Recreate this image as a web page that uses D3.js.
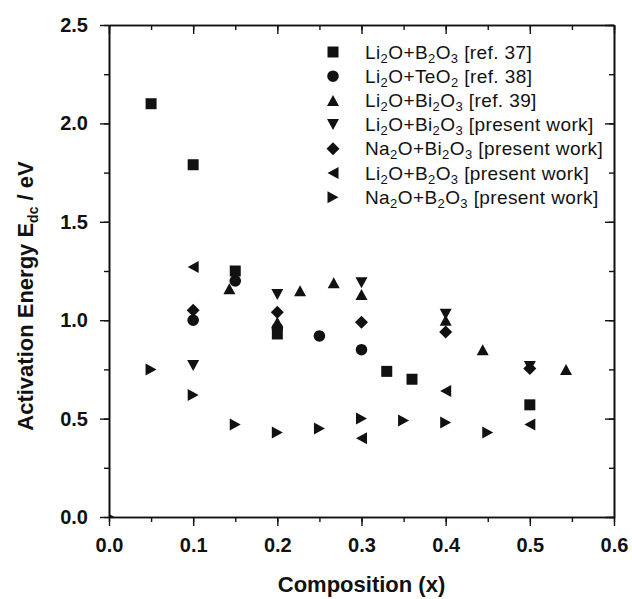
<!DOCTYPE html>
<html>
<head>
<meta charset="utf-8">
<script src="https://cdn.jsdelivr.net/npm/d3@7"></script>
<style>
  body { margin: 0; background: #fff; }
  svg { display: block; font-family: "Liberation Sans", Arial, sans-serif; }
</style>
</head>
<body>
<svg id="chart"></svg>
<script>
// Li2O+B2O3 [ref. 37] - squares
const refB_x = [0.05, 0.10, 0.15, 0.20, 0.33, 0.36, 0.50];
const refB_y = [2.10, 1.79, 1.25, 0.93, 0.74, 0.70, 0.57];
// Li2O+TeO2 [ref. 38] - circles
const refTe_x = [0.10, 0.15, 0.20, 0.25, 0.30];
const refTe_y = [1.00, 1.20, 0.96, 0.92, 0.85];
// Li2O+Bi2O3 [ref. 39] - up triangles
const refBi_x = [0.143, 0.20, 0.227, 0.267, 0.30, 0.40, 0.444, 0.543];
const refBi_y = [1.16, 0.99, 1.15, 1.19, 1.13, 1.00, 0.85, 0.75];
// Li2O+Bi2O3 [present work] - down triangles
const liBi_x = [0.10, 0.20, 0.30, 0.40, 0.50];
const liBi_y = [0.77, 1.13, 1.19, 1.03, 0.765];
// Na2O+Bi2O3 [present work] - diamonds
const naBi_x = [0.10, 0.20, 0.30, 0.40, 0.50];
const naBi_y = [1.05, 1.04, 0.99, 0.94, 0.755];
// Li2O+B2O3 [present work] - left triangles
const liB_x = [0.10, 0.30, 0.40, 0.50];
const liB_y = [1.27, 0.40, 0.64, 0.47];
// Na2O+B2O3 [present work] - right triangles
const naB_x = [0.00, 0.05, 0.10, 0.15, 0.20, 0.25, 0.30, 0.35, 0.40, 0.45];
const naB_y = [0.00, 0.75, 0.62, 0.47, 0.43, 0.45, 0.50, 0.49, 0.48, 0.43];

const xTicks = [0, 0.1, 0.2, 0.3, 0.4, 0.5, 0.6];
const yTicks = [0, 0.5, 1.0, 1.5, 2.0, 2.5];

// legend labels: [text, isSubscript] pieces
const legendLabels = [
  [["Li"], ["2", 1], ["O+B"], ["2", 1], ["O"], ["3", 1], [" [ref. 37]"]],
  [["Li"], ["2", 1], ["O+TeO"], ["2", 1], [" [ref. 38]"]],
  [["Li"], ["2", 1], ["O+Bi"], ["2", 1], ["O"], ["3", 1], [" [ref. 39]"]],
  [["Li"], ["2", 1], ["O+Bi"], ["2", 1], ["O"], ["3", 1], [" [present work]"]],
  [["Na"], ["2", 1], ["O+Bi"], ["2", 1], ["O"], ["3", 1], [" [present work]"]],
  [["Li"], ["2", 1], ["O+B"], ["2", 1], ["O"], ["3", 1], [" [present work]"]],
  [["Na"], ["2", 1], ["O+B"], ["2", 1], ["O"], ["3", 1], [" [present work]"]]
];

const series = [
  { xs: refB_x, ys: refB_y, shape: "square" },
  { xs: refTe_x, ys: refTe_y, shape: "circle" },
  { xs: refBi_x, ys: refBi_y, shape: "up" },
  { xs: liBi_x, ys: liBi_y, shape: "down" },
  { xs: naBi_x, ys: naBi_y, shape: "diamond" },
  { xs: liB_x, ys: liB_y, shape: "left" },
  { xs: naB_x, ys: naB_y, shape: "right" }
];

const width = 632, height = 599;
const margin = { top: 25, right: 18, bottom: 82, left: 109 };
const innerW = width - margin.left - margin.right;
const innerH = height - margin.top - margin.bottom;

const svg = d3.select("#chart").attr("width", width).attr("height", height);

const x = d3.scaleLinear().domain([0, 0.6]).range([0, innerW]);
const y = d3.scaleLinear().domain([0, 2.5]).range([innerH, 0]);

const g = svg.append("g").attr("transform", `translate(${margin.left},${margin.top})`);

svg.append("defs").append("clipPath").attr("id", "plotclip")
  .append("rect").attr("width", innerW).attr("height", innerH);

// marker path centred at 0,0
function marker(shape) {
  const p = d3.path();
  const s = 5.5, t = 6, h = 5.5;
  switch (shape) {
    case "square": p.rect(-s, -s, 2 * s, 2 * s); break;
    case "circle": p.arc(0, 0, 5.8, 0, 2 * Math.PI); break;
    case "up": p.moveTo(-t, h); p.lineTo(t, h); p.lineTo(0, -h); p.closePath(); break;
    case "down": p.moveTo(-t, -h); p.lineTo(t, -h); p.lineTo(0, h); p.closePath(); break;
    case "left": p.moveTo(h, -t); p.lineTo(h, t); p.lineTo(-h, 0); p.closePath(); break;
    case "right": p.moveTo(-h, -t); p.lineTo(-h, t); p.lineTo(h, 0); p.closePath(); break;
    case "diamond": p.moveTo(0, -6.5); p.lineTo(6.5, 0); p.lineTo(0, 6.5); p.lineTo(-6.5, 0); p.closePath(); break;
  }
  return p.toString();
}

// axes: left/bottom ticks outside, top/right ticks inside
const xMinor = d3.range(0, 0.6001, 0.05);
const yMinor = d3.range(0, 2.5001, 0.25);

function styleAxis(sel) {
  sel.select(".domain").attr("stroke", "#111").attr("stroke-width", 1.6);
  sel.selectAll(".tick line").attr("stroke", "#111").attr("stroke-width", 1.4);
}

g.append("g").attr("transform", `translate(0,${innerH})`)
  .call(d3.axisBottom(x).tickValues(xMinor).tickSize(5).tickFormat("").tickSizeOuter(0))
  .call(styleAxis);
g.append("g").attr("transform", `translate(0,${innerH})`)
  .call(d3.axisBottom(x).tickValues(xTicks).tickSize(9).tickPadding(12).tickFormat(d3.format(".1f")).tickSizeOuter(0))
  .call(styleAxis)
  .call(a => a.selectAll("text").attr("font-size", 20).attr("font-weight", "bold").attr("fill", "#111"));

g.append("g")
  .call(d3.axisTop(x).tickValues(xMinor).tickSize(-5).tickFormat("").tickSizeOuter(0))
  .call(styleAxis);
g.append("g")
  .call(d3.axisTop(x).tickValues(xTicks).tickSize(-9).tickFormat("").tickSizeOuter(0))
  .call(styleAxis);

g.append("g")
  .call(d3.axisLeft(y).tickValues(yMinor).tickSize(5).tickFormat("").tickSizeOuter(0))
  .call(styleAxis);
g.append("g")
  .call(d3.axisLeft(y).tickValues(yTicks).tickSize(9).tickPadding(12).tickFormat(d3.format(".1f")).tickSizeOuter(0))
  .call(styleAxis)
  .call(a => a.selectAll("text").attr("font-size", 20).attr("font-weight", "bold").attr("fill", "#111"));

g.append("g").attr("transform", `translate(${innerW},0)`)
  .call(d3.axisRight(y).tickValues(yMinor).tickSize(-5).tickFormat("").tickSizeOuter(0))
  .call(styleAxis);
g.append("g").attr("transform", `translate(${innerW},0)`)
  .call(d3.axisRight(y).tickValues(yTicks).tickSize(-9).tickFormat("").tickSizeOuter(0))
  .call(styleAxis);

// data markers
const plot = g.append("g").attr("clip-path", "url(#plotclip)");
series.forEach(s => {
  plot.append("g").selectAll("path")
    .data(s.xs.map((v, i) => [v, s.ys[i]]))
    .enter().append("path")
      .attr("d", marker(s.shape))
      .attr("transform", d => `translate(${x(d[0])},${y(d[1])})`)
      .attr("fill", "#111");
});

// legend
const legend = svg.append("g").attr("transform", "translate(333,52)");
legendLabels.forEach((parts, i) => {
  const row = legend.append("g").attr("transform", `translate(0,${i * 24.2})`);
  row.append("path").attr("d", marker(series[i].shape)).attr("fill", "#111");
  const txt = row.append("text").attr("x", 32).attr("y", 6.5)
    .attr("font-size", 19).attr("letter-spacing", 0.4).attr("fill", "#111");
  let sub = false;
  parts.forEach(([t, isSub]) => {
    const ts = txt.append("tspan").text(t);
    if (isSub && !sub) { ts.attr("dy", 4).attr("font-size", 13); sub = true; }
    else if (isSub) { ts.attr("font-size", 13); }
    else if (sub) { ts.attr("dy", -4); sub = false; }
  });
});

// axis titles
svg.append("text")
  .attr("x", margin.left + innerW / 2).attr("y", 592)
  .attr("text-anchor", "middle").attr("font-size", 22).attr("font-weight", "bold").attr("fill", "#111")
  .text("Composition (x)");

const yt = svg.append("text")
  .attr("transform", "translate(33,296) rotate(-90)")
  .attr("text-anchor", "middle").attr("font-size", 22).attr("font-weight", "bold").attr("fill", "#111");
yt.append("tspan").text("Activation Energy E");
yt.append("tspan").text("dc").attr("font-size", 14).attr("dy", 5);
yt.append("tspan").text(" / eV").attr("dy", -5);
</script>
</body>
</html>
